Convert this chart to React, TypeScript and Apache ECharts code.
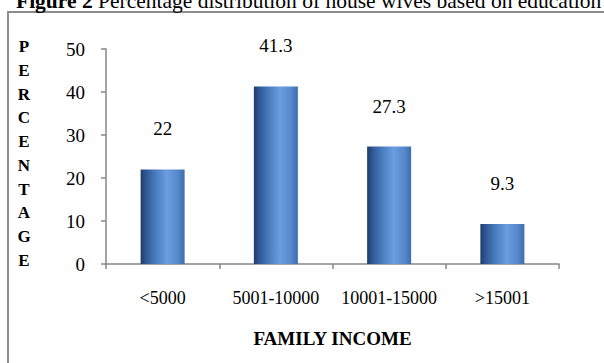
import React, { useEffect, useRef } from "react";
import * as echarts from "echarts";

const categories = ["<5000", "5001-10000", "10001-15000", ">15001"];
const values = [22, 41.3, 27.3, 9.3];
const yTicks = { min: 0, max: 50, interval: 10 };
const titleBold = "Figure 2";
const titleRest = " Percentage distribution of house wives based on education";
const yName = "PERCENTAGE";
const xName = "FAMILY INCOME";

const FONT = "'Liberation Serif', 'Times New Roman', Times, serif";

export default function App() {
  const ref = useRef<HTMLDivElement>(null);
  useEffect(() => {
    if (!ref.current) return;
    const chart = echarts.init(ref.current, null, { renderer: "svg" });
    const barColor = new echarts.graphic.LinearGradient(0, 0, 1, 0, [
      { offset: 0, color: "#1f3c6a" },
      { offset: 0.12, color: "#2e5894" },
      { offset: 0.35, color: "#4a7ec0" },
      { offset: 0.6, color: "#6b9de0" },
      { offset: 0.85, color: "#5588ca" },
      { offset: 1, color: "#3d6dab" },
    ]);
    chart.setOption({
      animation: false,
      backgroundColor: "#ffffff",
      textStyle: { fontFamily: FONT },
      grid: { left: 106, right: 45, top: 49, bottom: 99, containLabel: false },
      xAxis: {
        type: "category",
        data: categories,
        name: xName,
        nameLocation: "middle",
        nameGap: 65,
        nameTextStyle: { fontFamily: FONT, fontSize: 19, fontWeight: "bold", color: "#000" },
        axisLine: { lineStyle: { color: "#878787", width: 1.5 } },
        axisTick: { show: true, length: 5, alignWithLabel: false, lineStyle: { color: "#878787", width: 1.5 } },
        axisLabel: { interval: 0, margin: 25, fontFamily: FONT, fontSize: 18, color: "#000" },
      },
      yAxis: {
        type: "value",
        min: yTicks.min,
        max: yTicks.max,
        interval: yTicks.interval,
        axisLine: { show: true, lineStyle: { color: "#878787", width: 1.5 } },
        axisTick: { show: true, length: 5, lineStyle: { color: "#878787", width: 1.5 } },
        splitLine: { show: false },
        axisLabel: { margin: 21, fontFamily: FONT, fontSize: 19, color: "#000" },
      },
      series: [
        {
          type: "bar",
          data: values,
          barWidth: 44,
          itemStyle: { color: barColor },
          label: {
            show: true,
            position: "top",
            distance: 31,
            fontFamily: FONT,
            fontSize: 19,
            color: "#000",
          },
        },
      ],
      graphic: [
        {
          type: "rect",
          shape: { x: 8, y: 12, width: 640, height: 420 },
          style: { fill: "none", stroke: "#8c8c8c", lineWidth: 2 },
          silent: true,
        },
        {
          type: "text",
          x: 16,
          y: 12,
          style: {
            text: "{b|" + titleBold + "}" + titleRest,
            fontFamily: FONT,
            fontSize: 21.5,
            fill: "#000",
            verticalAlign: "bottom",
            rich: { b: { fontFamily: FONT, fontSize: 21.5, fontWeight: "bold", fill: "#000" } },
          },
        },
        {
          type: "text",
          x: 24,
          y: 35,
          style: {
            text: yName.split("").join("\n"),
            fontFamily: FONT,
            fontSize: 17,
            fontWeight: "bold",
            lineHeight: 23.7,
            fill: "#000",
            align: "center",
            verticalAlign: "top",
          },
        },
      ],
    });
    return () => chart.dispose();
  }, []);
  return (
    <div
      ref={ref}
      style={{ position: "absolute", left: 0, top: 0, width: 604, height: 363 }}
    />
  );
}
